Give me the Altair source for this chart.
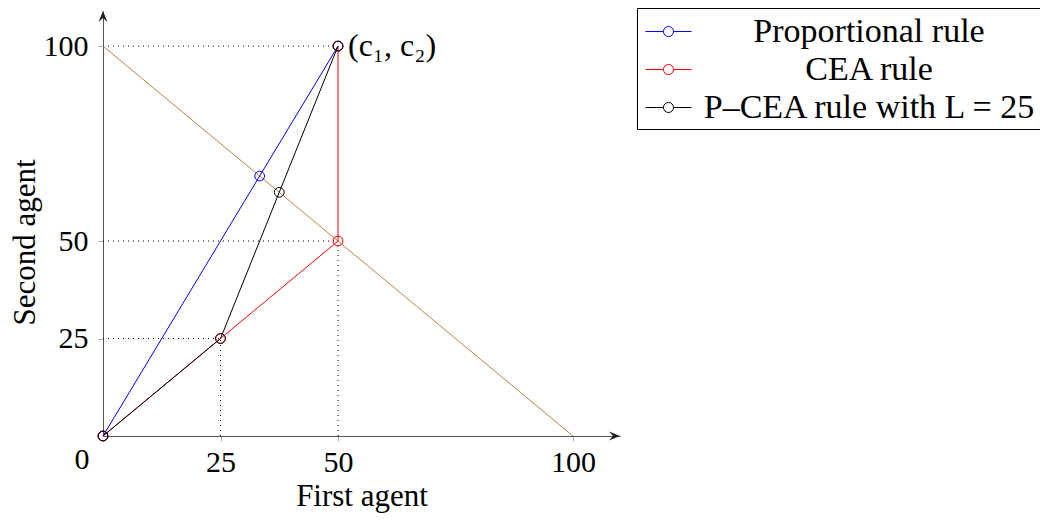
import altair as alt
import pandas as pd

rules = ["Proportional rule", "CEA rule", "P–CEA rule with L = 25"]
colors = ["#0000ff", "#ff0000", "#000000"]

prop_x = [0, 33.33, 50]
prop_y = [0, 66.67, 100]
cea_x = [0, 25, 50, 50]
cea_y = [0, 25, 50, 100]
pcea_x = [0, 25, 37.5, 50]
pcea_y = [0, 25, 62.5, 100]

budget_x = [0, 100]
budget_y = [100, 0]

guide_x = [0, 0, 0, 25, 50]
guide_y = [100, 50, 25, 0, 0]
guide_x2 = [50, 50, 25, 25, 50]
guide_y2 = [100, 50, 25, 25, 50]

x_ticks = [25, 50, 100]
y_ticks = [25, 50, 100]

claim_label = ["(c₁, c₂)"]
claim_x = [50]
claim_y = [100]

FONT = "Liberation Serif"

rows = []
for name, xs, ys in [(rules[0], prop_x, prop_y), (rules[1], cea_x, cea_y), (rules[2], pcea_x, pcea_y)]:
    for i, (a, b) in enumerate(zip(xs, ys)):
        rows.append({"rule": name, "x": a, "y": b, "o": i})
series = pd.DataFrame(rows)

budget = pd.DataFrame({"x": budget_x, "y": budget_y})
guides = pd.DataFrame({"x": guide_x, "y": guide_y, "x2": guide_x2, "y2": guide_y2})
arrows = pd.DataFrame({
    "x": [110, 0], "y": [0, 109],
    "shape": ["M0,0 L-2.2,-0.9 L-1.4,0 L-2.2,0.9 Z", "M0,0 L-0.9,2.2 L0,1.4 L0.9,2.2 Z"],
})
claim = pd.DataFrame({"x": claim_x, "y": claim_y, "t": claim_label})
zero = pd.DataFrame({"x": [0], "y": [0], "t": ["0"]})

xs = alt.Scale(domain=[0, 110], nice=False, zero=False)
ys = alt.Scale(domain=[0, 109], nice=False, zero=False)

sym = ("M-0.79,0 L0.155,0 M0.685,0 L1.63,0 "
       "M0.685,0 A0.265,0.265 0 1,1 0.155,0 A0.265,0.265 0 1,1 0.685,0")

legend = alt.Legend(
    orient="none", legendX=534, legendY=-3, title=None,
    symbolType=sym, symbolSize=1444, symbolStrokeWidth=1,
    symbolFillColor="transparent",
    labelFont=FONT, labelFontSize=34, labelAlign="center", labelBaseline="middle",
    labelOffset=189, labelLimit=600, labelColor="black",
    padding=4, rowPadding=1, strokeColor="black", fillColor="white",
)
color = alt.Color("rule:N", scale=alt.Scale(domain=rules, range=colors), legend=legend, sort=rules)

xaxis = alt.Axis(values=x_ticks, title="First agent", titleY=60, titleBaseline="middle")
yaxis = alt.Axis(values=y_ticks, title="Second agent", titleX=-78, titleY=231,
                 titleBaseline="middle", titleAngle=-90)

guide_layer = alt.Chart(guides).mark_rule(color="black", strokeWidth=1, strokeDash=[1, 4]).encode(
    x=alt.X("x:Q", scale=xs, axis=xaxis), y=alt.Y("y:Q", scale=ys, axis=yaxis),
    x2="x2:Q", y2="y2:Q",
)
budget_layer = alt.Chart(budget).mark_line(color="#bf8040", strokeWidth=1).encode(
    x=alt.X("x:Q", scale=xs), y=alt.Y("y:Q", scale=ys)
)
lines = alt.Chart(series).mark_line(strokeWidth=1).encode(
    x=alt.X("x:Q", scale=xs), y=alt.Y("y:Q", scale=ys), color=color, order="o:Q"
)
points = alt.Chart(series).mark_point(shape="circle", filled=False, size=95, strokeWidth=1, opacity=1).encode(
    x=alt.X("x:Q", scale=xs), y=alt.Y("y:Q", scale=ys), color=color
)
arrow_layer = alt.Chart(arrows).mark_point(filled=True, size=100, color="#222", opacity=1).encode(
    x=alt.X("x:Q", scale=xs), y=alt.Y("y:Q", scale=ys), shape=alt.Shape("shape:N", scale=None)
)
claim_layer = alt.Chart(claim).mark_text(align="left", baseline="middle", dx=10, dy=0,
                                         font=FONT, fontSize=32, color="black").encode(
    x=alt.X("x:Q", scale=xs), y=alt.Y("y:Q", scale=ys), text="t:N"
)
zero_layer = alt.Chart(zero).mark_text(align="center", baseline="middle", dx=-21, dy=24,
                                       font=FONT, fontSize=30, color="black").encode(
    x=alt.X("x:Q", scale=xs), y=alt.Y("y:Q", scale=ys), text="t:N"
)

chart = alt.layer(
    guide_layer, budget_layer, lines, points, arrow_layer, claim_layer, zero_layer
).properties(
    width=517, height=425,
    autosize=alt.AutoSizeParams(type="none"),
    padding={"left": 95, "top": 3, "right": 420, "bottom": 77},
).configure_view(stroke=None).configure_axis(
    grid=False, domainColor="#555", domainWidth=1, tickColor="#aaa", tickSize=5,
    labelFont=FONT, labelFontSize=30, labelColor="black", labelPadding=6,
    titleFont=FONT, titleFontSize=31, titleFontWeight="normal", titleColor="black",
).configure_axisY(labelPadding=10)

chart.save("out.html", embed_options={"renderer": "svg", "actions": False})
